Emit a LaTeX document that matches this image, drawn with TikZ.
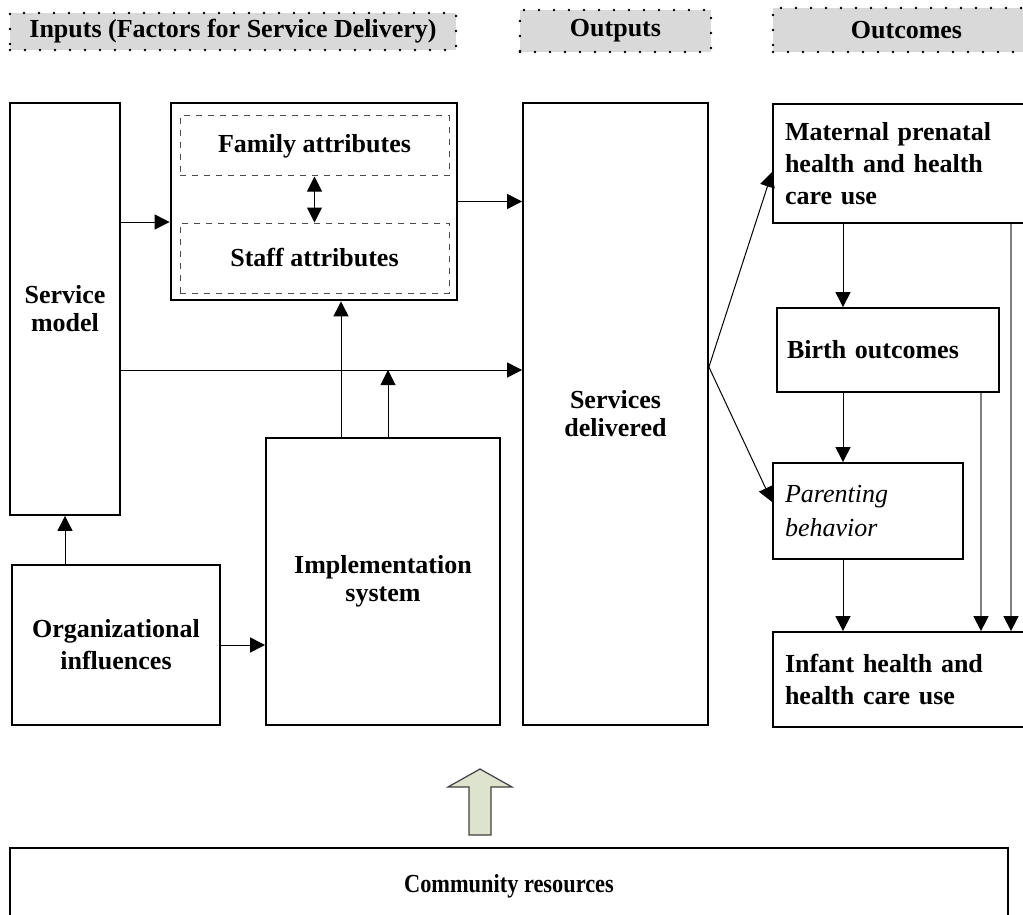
\documentclass[tikz,border=0pt]{standalone}
\usepackage{fontspec}
\usepackage{graphicx}
\setmainfont{Liberation Serif}
\usetikzlibrary{arrows.meta,calc}
\definecolor{hdrgray}{HTML}{D9D9D9}
\definecolor{olivepale}{HTML}{DDE3CC}
\tikzset{
  box/.style={draw, line width=0.9pt, align=center},
  lbox/.style={draw, line width=0.9pt, align=left, inner xsep=6pt},
  dbox/.style={draw=black!70, dashed, line width=0.5pt},
  hdr/.style={fill=hdrgray, draw, line width=1.4pt, line cap=round,
    dash pattern=on 0pt off 7.5pt},
  arr/.style={-{Triangle[length=7.5pt,width=7.5pt,color=black]}, line width=0.5pt},
  gline/.style={arr, draw=black!50, line width=0.7pt}
}
\begin{document}
\begin{tikzpicture}[x=0.5pt, y=-0.5pt,
  every node/.style={font=\fontsize{13}{16}\selectfont\bfseries, inner sep=0pt}]
\useasboundingbox (0,0) rectangle (1023,915);
\clip (0,0) rectangle (1023,915);
% headers
\node[hdr, minimum width=223pt, minimum height=18.5pt] (hin) at (233, 31.5) {Inputs (Factors for Service Delivery)};
\node[hdr, minimum width=95.5pt, minimum height=21pt] (hout) at (615.5, 31) {Outputs};
\node[hdr, minimum width=133.5pt, minimum height=22pt] (hoc) at (906.5, 30) {Outcomes};
% inputs
\node[box, minimum width=55pt, minimum height=206pt,
  font=\fontsize{13}{14}\selectfont\bfseries] (sm) at (65, 309) {Service\\model};
\node[draw, line width=1.4pt, minimum width=143pt, minimum height=98.5pt] (attr) at (314, 201.5) {};
\node[dbox, minimum width=134.5pt, minimum height=30pt] (fam) at (314.5, 146) {Family attributes};
\node[dbox, minimum width=134.5pt, minimum height=35pt] (staff) at (314.5, 258) {Staff attributes};
\node[box, minimum width=117pt, minimum height=143.5pt,
  font=\fontsize{13}{14}\selectfont\bfseries] (impl) at (383, 581.5) {Implementation\\system};
\node[box, minimum width=104pt, minimum height=80pt] (org) at (116, 645) {Organizational\\influences};
% outputs
\node[box, minimum width=92.5pt, minimum height=311pt,
  font=\fontsize{13}{14}\selectfont\bfseries] (sd) at (615.5, 414) {Services\\delivered};
% outcomes
\node[lbox, text width=121.5pt, minimum height=59.5pt] (mat) at (906.5, 163.5) {Maternal prenatal\\health and health\\care use};
\node[lbox, inner xsep=5pt, text width=101pt, minimum height=42pt] (birth) at (888, 350) {Birth outcomes};
\node[lbox, text width=83pt, minimum height=48pt,
  font=\fontsize{13}{17}\selectfont\normalfont\itshape] (par) at (868, 511) {Parenting\\behavior};
\node[lbox, text width=121.5pt, minimum height=47.5pt] (inf) at (906.5, 679.5) {Infant health and\\health care use};
% community
\node[box, minimum width=499pt, minimum height=38pt] (com) at (509, 886) {\scalebox{0.86}[1]{Community resources}};
\draw[fill=olivepale, draw=black!75, line width=0.6pt]
  (480, 769) -- (512, 787) -- (491, 787) -- (491, 835) -- (469, 835) -- (469, 787) -- (448, 787) -- cycle;
% connectors
\coordinate (j) at (388, 370);
\coordinate (fork) at (sd.east |- 0,367);
\draw[arr] (sm.east |- 0,222) -- (attr.west |- 0,222);
\draw[arr] (attr.east) -- (attr.east -| sd.west);
\draw[arr] (sm.east |- j) -- (sd.west |- j);
\draw[{Triangle[length=7.5pt,width=7.5pt]}-{Triangle[length=7.5pt,width=7.5pt]}, line width=0.5pt] (fam.south) -- (staff.north);
\draw[arr] (341,0 |- impl.north) -- (341,0 |- attr.south);
\draw[arr] (j |- impl.north) -- (j);
\draw[arr] (sm.south |- org.north) -- (sm.south);
\draw[arr] (org.east) -- (org.east -| impl.west);
\draw[arr] (fork) -- (mat.west |- 0,172);
\draw[arr] (fork) -- (par.west |- 0,502);
\draw[arr] (843,0 |- mat.south) -- (843,0 |- birth.north);
\draw[arr] (843,0 |- birth.south) -- (843,0 |- par.north);
\draw[arr] (843,0 |- par.south) -- (843,0 |- inf.north);
\draw[gline] (981,0 |- birth.south) -- (981,0 |- inf.north);
\draw[gline] (1011,0 |- mat.south) -- (1011,0 |- inf.north);
\end{tikzpicture}
\end{document}
